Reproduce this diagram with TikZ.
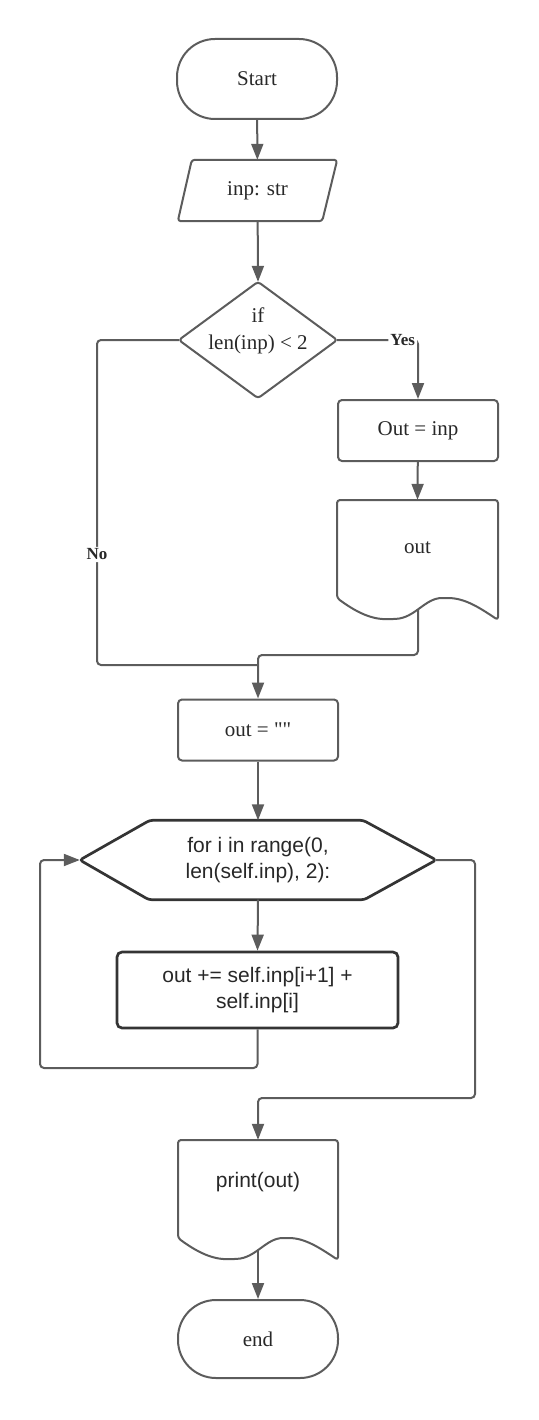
\documentclass[tikz,border=0pt]{standalone}
\usepackage{fontspec}
\setmainfont{Liberation Serif}
\setsansfont{Liberation Sans}
\usetikzlibrary{arrows.meta,calc}
\definecolor{linegray}{RGB}{92,92,92}
\definecolor{darkline}{RGB}{52,52,52}
\definecolor{txt}{RGB}{40,40,40}

\begin{document}
\begin{tikzpicture}[x=1pt,y=-1pt,
  every node/.style={text=txt, font=\fontsize{21}{27}\selectfont, align=center},
  terminal/.style={draw=linegray, line width=2pt, rounded corners=38pt,
    minimum width=160pt, minimum height=80pt},
  procbox/.style={draw=linegray, line width=2pt, rounded corners=4pt,
    minimum width=160pt, minimum height=61pt},
  frame/.style={inner sep=0pt},
  outline/.style={draw=linegray, line width=2pt, rounded corners=3pt, line join=round},
  heavy/.style={draw=darkline, line width=2.7pt, rounded corners=3pt, line join=round},
  code/.style={font=\sffamily\fontsize{21}{26}\selectfont},
  plain/.style={draw=linegray, line width=2pt, rounded corners=4pt},
  flow/.style={plain, -{Triangle[length=16pt,width=12pt]}},
  lbl/.style={fill=white, font=\bfseries\fontsize{17}{18}\selectfont, inner sep=2pt}
]
\useasboundingbox (0,0) rectangle (538,1420);

% start and input
\node[terminal] (start) at (257,79) {Start};
\node[frame, minimum width=159pt, minimum height=61pt] (inp) at (257.5,190.5) {inp: str};
\draw[outline] ($(inp.north west)+(14,0)$) -- (inp.north east)
  -- ($(inp.south east)+(-15,0)$) -- (inp.south west) -- cycle;

% decision
\node[frame, minimum width=158pt, minimum height=116pt] (dec) at (258,340) {};
\draw[outline] (dec.north) -- (dec.east) -- (dec.south) -- (dec.west) -- cycle;
\node (dectext) at (258,331) {if\\len(inp) < 2};

% yes branch
\node[procbox] (outinp) at (418,430.5) {Out = inp};
\node[frame, minimum width=161pt, minimum height=120pt] (outdoc) at (417.5,560) {};
\node (outdoctext) at (417.5,548) {out};
\draw[outline] (337,500) -- (498,500) -- (498,620)
  .. controls (480,608) and (465,598) .. (445,598)
  .. controls (425,598) and (415,618) .. (393,619)
  .. controls (375,620) and (360,615) .. (337,598) -- cycle;
\coordinate (outdocb) at (418,609);

% reset accumulator
\node[procbox] (outempty) at (258,730) {out = \textquotedbl\textquotedbl};

% loop header
\node[frame, code, minimum width=356pt, minimum height=79pt] (loop) at (258,860)
  {for i in range(0,\\len(self.inp), 2):};
\draw[heavy] (loop.west) -- ($(loop.north west)+(70,0)$) -- ($(loop.north east)+(-73,0)$)
  -- (loop.east) -- ($(loop.south east)+(-72,0)$) -- ($(loop.south west)+(69,0)$) -- cycle;

% loop body
\node[code, draw=darkline, line width=2.7pt, rounded corners=5pt,
  minimum width=281pt, minimum height=76pt] (body) at (257.5,990)
  {out += self.inp[i+1] +\\self.inp[i]};

% output and end
\node[frame, minimum width=160pt, minimum height=120pt] (print) at (258,1200) {};
\node[code] (printtext) at (258,1182) {print(out)};
\draw[outline] (178,1140) -- (338,1140) -- (338,1260)
  .. controls (320,1248) and (305,1238) .. (286,1238)
  .. controls (266,1238) and (256,1258) .. (234,1259)
  .. controls (216,1260) and (201,1255) .. (178,1238) -- cycle;
\coordinate (printb) at (258,1250);
\node[terminal, minimum height=78pt] (end) at (258,1339) {end};

% junction and turning points
\coordinate (j1) at (258,655);
\coordinate (nocorner) at (97,665);
\coordinate (jn) at (258,665);
\coordinate (lcorner) at (40,1068);
\coordinate (rcorner) at (475,1098);

% connectors
\draw[flow] (start) -- (inp);
\draw[flow] (inp) -- (dec.north);
\draw[flow] (dec.east) -| node[lbl, anchor=east, pos=0.5] {Yes} (outinp.north);
\draw[flow] (outinp) -- (outdoc.north);
\draw[flow] (outdocb) |- (j1) -- (outempty.north);
\draw[plain] (dec.west) -| node[lbl, pos=0.83] {No} (nocorner) -- (jn);
\draw[flow] (outempty) -- (loop.north);
\draw[flow] (loop.south) -- (body.north);
\draw[flow] (body.south) |- (lcorner) |- (loop.west);
\draw[flow] (loop.east) -| (rcorner) -| (print.north);
\draw[flow] (printb) -- (end.north);
\end{tikzpicture}
\end{document}
